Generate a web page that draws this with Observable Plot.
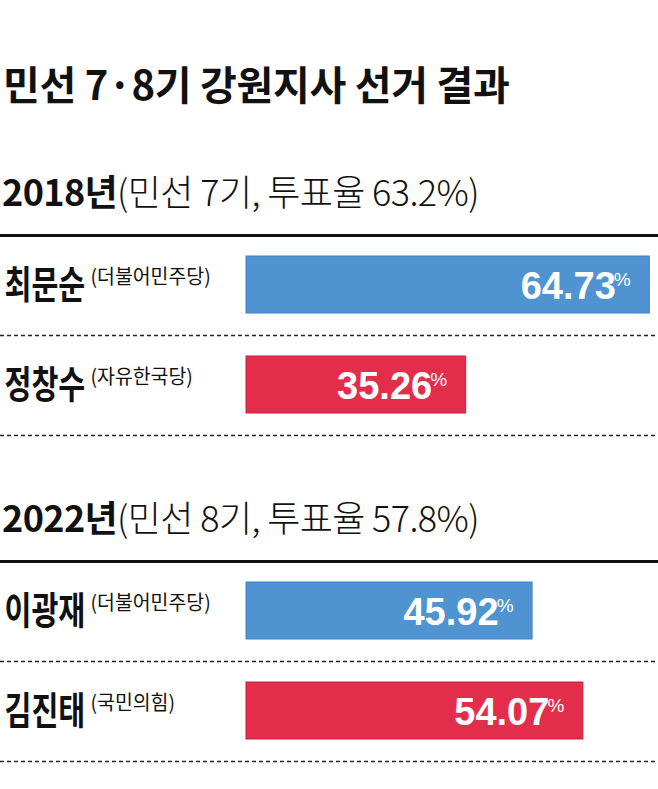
<!DOCTYPE html>
<html>
<head>
<meta charset="utf-8">
<script src="https://cdn.jsdelivr.net/npm/d3@7"></script>
<script src="https://cdn.jsdelivr.net/npm/@observablehq/plot@0.6"></script>
<style>
  html, body { margin: 0; padding: 0; background: #fff; }
  body { width: 658px; height: 789px; position: relative; overflow: hidden; font-family: "Noto Sans CJK KR", sans-serif; color: #111; }
  .title { position: absolute; left: 3px; top: 63px; font-size: 40px; font-weight: 700; line-height: 1; letter-spacing: -0.3px; white-space: nowrap; }
  .sub { position: absolute; left: 2px; font-size: 36px; line-height: 1; white-space: nowrap; letter-spacing: -0.6px; }
  .sub b { font-weight: 700; }
  .sub span { font-weight: 300; }
  .chart { position: absolute; left: 0; }
</style>
</head>
<body>
<div class="title" id="title"></div>
<div class="sub" id="sub1" style="top:172px"></div>
<div class="chart" id="chart1" style="top:232px"></div>
<div class="sub" id="sub2" style="top:498px"></div>
<div class="chart" id="chart2" style="top:558px"></div>
<script>
const title = "민선 7·8기 강원지사 선거 결과";
const years = ["2018년", "2022년"];
const yearNotes = ["(민선 7기, 투표율 63.2%)", "(민선 8기, 투표율 57.8%)"];
const names2018 = ["최문순", "정창수"];
const parties2018 = ["(더불어민주당)", "(자유한국당)"];
const values2018 = [64.73, 35.26];
const names2022 = ["이광재", "김진태"];
const parties2022 = ["(더불어민주당)", "(국민의힘)"];
const values2022 = [45.92, 54.07];
const partyFill = {"(더불어민주당)": "#4f93d1", "(자유한국당)": "#e22d4b", "(국민의힘)": "#e22d4b"};
const partyStroke = {"(더불어민주당)": "#3b84c7", "(자유한국당)": "#cf1f3e", "(국민의힘)": "#cf1f3e"};

document.getElementById("title").textContent = title;
["sub1", "sub2"].forEach((id, i) => {
  const el = document.getElementById(id);
  const b = document.createElement("b"); b.textContent = years[i];
  const s = document.createElement("span"); s.textContent = yearNotes[i];
  el.append(b, s);
});

function condense(svg, groupIndex, k) {
  const groups = svg.querySelectorAll('g[aria-label="text"]');
  const g = groups[groupIndex];
  if (!g) return;
  g.querySelectorAll("text").forEach(t => {
    const len = t.getComputedTextLength();
    t.setAttribute("textLength", (len * k).toFixed(1));
    t.setAttribute("lengthAdjust", "spacingAndGlyphs");
  });
}

function makeChart(container, names, parties, values) {
  const data = names.map((n, i) => ({name: n, party: parties[i], value: values[i]}));
  const svg = Plot.plot({
    width: 658,
    height: 206,
    marginTop: 3,
    marginBottom: 3,
    marginLeft: 0,
    marginRight: 0,
    x: {domain: [0, 100], range: [246, 246 + 623], axis: null},
    y: {domain: names, padding: 0, axis: null},
    style: {fontFamily: "'Noto Sans CJK KR', sans-serif", overflow: "visible"},
    marks: [
      Plot.frame({anchor: "top", stroke: "#111", strokeWidth: 3}),
      Plot.ruleY(data, {y: "name", dy: 50, stroke: "#222", strokeWidth: 1.5, strokeDasharray: "4,3"}),
      Plot.barX(data, {x: "value", y: "name", fill: d => partyFill[d.party], stroke: d => partyStroke[d.party], strokeWidth: 1, insetTop: 21, insetBottom: 22}),
      Plot.text(data, {y: "name", text: "name", frameAnchor: "left", dx: 4, textAnchor: "start", fontSize: 38, fontWeight: "bold", fill: "#111"}),
      Plot.text(data, {y: "name", text: "party", frameAnchor: "left", dx: 90, dy: -8, textAnchor: "start", fontSize: 20, fill: "#111"}),
      Plot.text(data, {x: "value", y: "name", text: d => d.value.toFixed(2), textAnchor: "end", dx: -34, dy: 1, fill: "white", fontSize: 38, fontWeight: "bold", fontFamily: "'Liberation Sans', Arial, sans-serif"}),
      Plot.text(data, {x: "value", y: "name", text: () => "%", textAnchor: "end", dx: -19, dy: -6, fill: "white", fontSize: 19, fontFamily: "'Liberation Sans', Arial, sans-serif"})
    ]
  });
  container.append(svg);
  condense(svg, 0, 0.77);
  condense(svg, 1, 0.97);
}

makeChart(document.getElementById("chart1"), names2018, parties2018, values2018);
makeChart(document.getElementById("chart2"), names2022, parties2022, values2022);
</script>
</body>
</html>
